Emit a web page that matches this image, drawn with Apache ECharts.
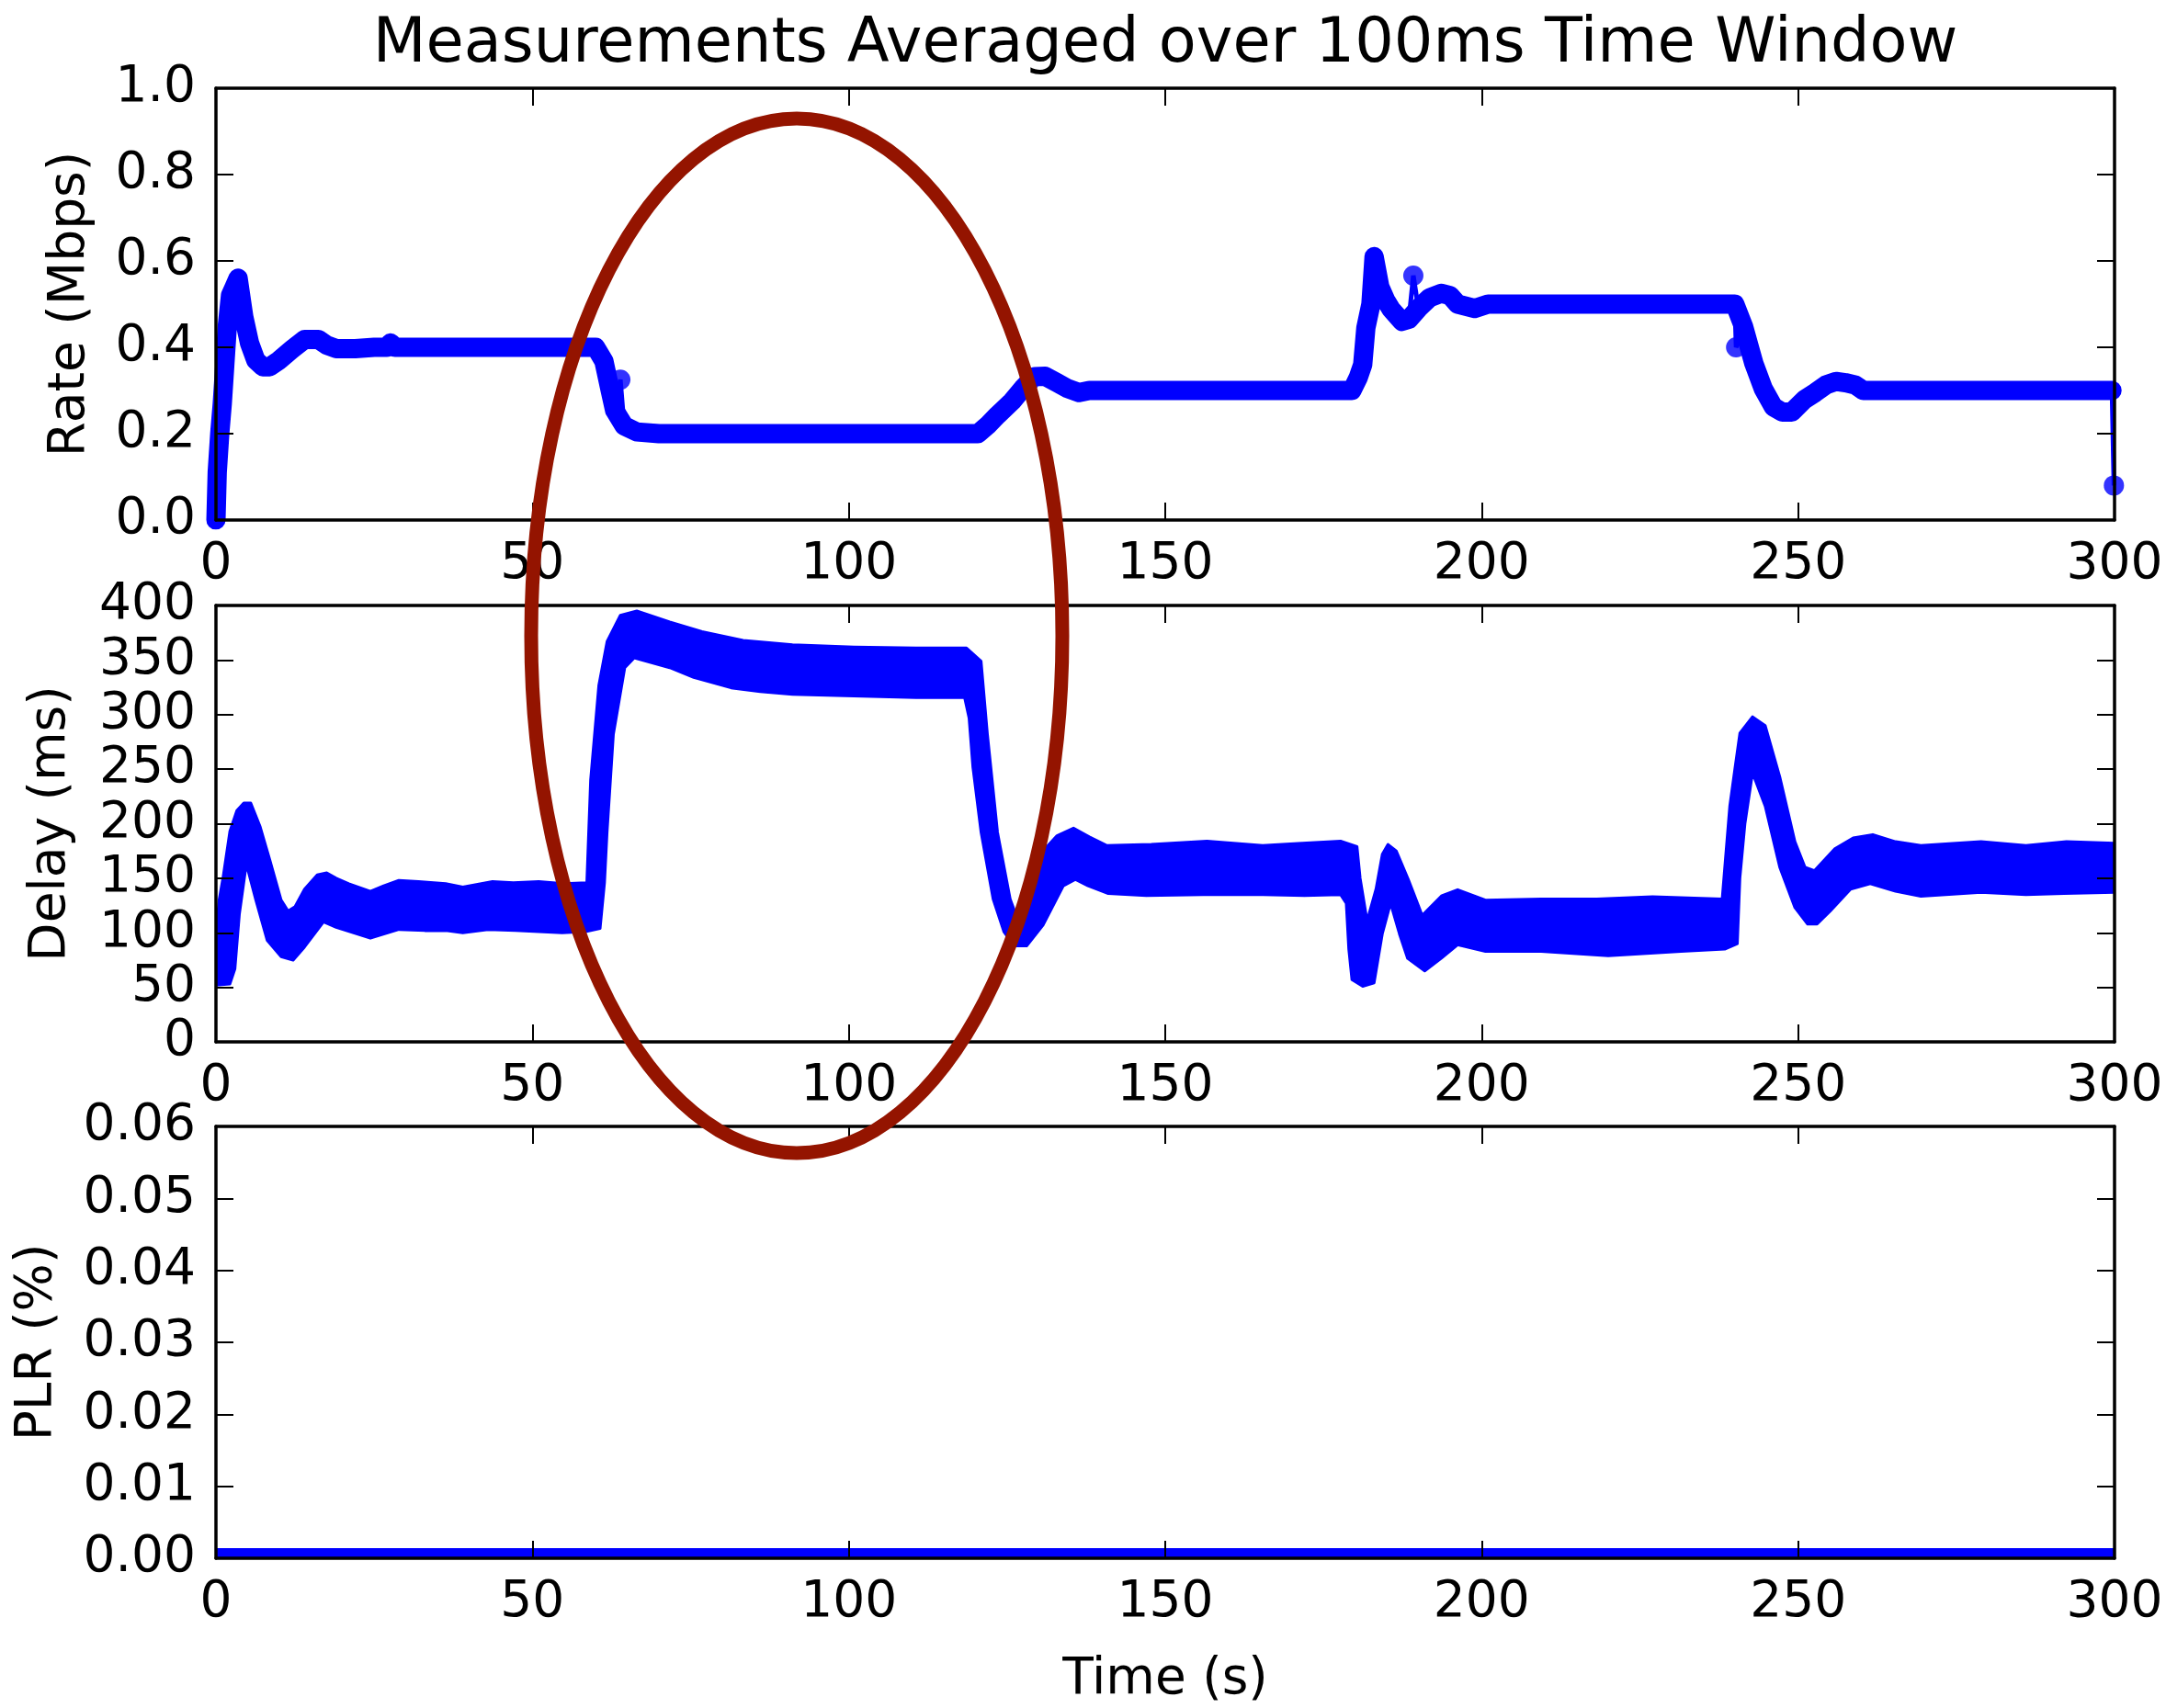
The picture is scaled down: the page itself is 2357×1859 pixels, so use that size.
<!DOCTYPE html>
<html><head><meta charset="utf-8">
<script src="https://cdn.jsdelivr.net/npm/echarts@6/dist/echarts.min.js"></script>
<style>html,body{margin:0;padding:0;background:#fff}#c{width:2357px;height:1859px}</style>
</head><body><div id="c"></div>
<script>
// ---------------- data ----------------
const titleText = 'Measurements Averaged over 100ms Time Window';
const xName = 'Time (s)';
const yNames = ['Rate (Mbps)', 'Delay (ms)', 'PLR (%)'];

// Rate (Mbps): main path
const rateTime = [0, 0.2, 0.6, 1.0, 1.4, 1.8, 2.3, 2.9, 3.5, 4.4, 5.3, 6.3, 7.4, 8.5, 10, 12, 14, 16.2, 17.5, 19, 22, 25, 27, 27.6, 28.3, 35, 45, 55, 60, 61.3, 62.3, 63, 64.5, 66.5, 70, 80, 90, 100, 110, 120.4, 122, 123.5, 125.8, 127.5, 129.3, 131, 132.9, 134.5, 136.4, 138, 145, 160, 170, 179.5, 180.5, 181.2, 181.7, 182.5, 183, 183.9, 184.8, 185.7, 187.4, 188.5, 190, 191.8, 193.6, 195, 196.2, 198.9, 201, 210, 220, 230, 240, 241.4, 243, 244.5, 246.1, 247.5, 249, 251, 252.7, 254.4, 256, 257.5, 259, 260.3, 270, 280, 290, 299.6];
const rateMbps = [0.0, 0.11, 0.2, 0.27, 0.36, 0.45, 0.52, 0.54, 0.56, 0.47, 0.41, 0.37, 0.355, 0.355, 0.37, 0.395, 0.418, 0.418, 0.405, 0.397, 0.397, 0.4, 0.4, 0.41, 0.4, 0.4, 0.4, 0.4, 0.4, 0.368, 0.3, 0.254, 0.218, 0.204, 0.2, 0.2, 0.2, 0.2, 0.2, 0.2, 0.22, 0.243, 0.275, 0.305, 0.332, 0.333, 0.318, 0.305, 0.295, 0.3, 0.3, 0.3, 0.3, 0.3, 0.33, 0.36, 0.445, 0.5, 0.61, 0.54, 0.51, 0.488, 0.46, 0.465, 0.49, 0.515, 0.525, 0.52, 0.5, 0.49, 0.5, 0.5, 0.5, 0.5, 0.5, 0.447, 0.363, 0.304, 0.262, 0.25, 0.25, 0.279, 0.295, 0.313, 0.321, 0.318, 0.313, 0.3, 0.3, 0.3, 0.3, 0.3];
// Rate: isolated samples
const rateOutlierTime = [63.9, 189.2, 240.2, 299.9];
const rateOutlierMbps = [0.325, 0.566, 0.40, 0.08];

// Delay (ms): upper and lower envelope of the sample band
const delayUpperTime = [0, 0.5, 1.1, 2.2, 3.3, 4.4, 5.5, 7, 8.5, 10.3, 11.4, 12.5, 14, 16, 17.5, 19, 21, 24.4, 26.5, 28.9, 32, 36.3, 39, 43.7, 47, 51, 55, 58.6, 59.2, 60.5, 61.8, 63.9, 66.5, 71.7, 76.8, 83.3, 91.1, 100.8, 110.6, 118.6, 120.9, 121.9, 123.5, 125.5, 126.7, 127.6, 129, 130.2, 132.9, 135.5, 138, 140.8, 147.8, 156.6, 165.4, 171, 177.7, 180.3, 180.8, 181.9, 183.3, 184.3, 185.2, 186.5, 188.4, 190.6, 193.7, 196.2, 200.6, 209.4, 218.2, 227, 238, 239.2, 240, 240.8, 242.8, 244.8, 247.1, 249.5, 251.1, 252.6, 255.8, 258.7, 261.8, 265.4, 269.4, 278.9, 286, 292.4, 300];
const delayUpperMs = [100, 130, 150, 193, 212, 219, 219, 197, 167, 130, 120, 124, 140, 153, 155, 150, 145, 138, 143, 148, 147, 145, 142, 147, 146, 147, 145, 146, 240, 327, 367, 391, 395, 385, 376, 368, 364, 362, 361, 361, 349, 282, 192, 131, 112, 121, 150, 172, 189, 196, 188, 180, 181, 184, 180, 182, 184, 179, 150, 111, 140, 172, 181, 175, 149, 116, 134, 139.5, 130, 131, 131, 133, 131, 216, 250, 283, 298, 290, 243, 183.5, 160, 157, 177, 187, 190, 183.5, 180, 183.5, 180, 183.5, 182];
const delayLowerTime = [0, 2.2, 3, 3.7, 4.8, 6.3, 8.1, 10.3, 12.2, 14, 17, 19, 24.4, 28.9, 33, 36.3, 39, 43, 47.3, 51, 54.7, 58.4, 60.7, 61.4, 61.8, 62.8, 64.6, 66.1, 71.7, 75.5, 81.4, 86, 91.1, 100.8, 110.6, 118.3, 119, 119.6, 120.9, 122.8, 124.5, 126.1, 128.1, 130.7, 133.9, 135.8, 137.8, 141, 147, 156, 165.4, 172, 177.7, 178.6, 179, 179.5, 181.2, 183, 184.3, 185.6, 187, 188.3, 191, 193.6, 196.2, 200.6, 209.4, 220, 231.5, 238.4, 240.4, 240.8, 241.6, 242.8, 244.8, 247.1, 249.5, 251.5, 253, 255.1, 258.3, 261.4, 265.4, 269.4, 278.9, 286, 292, 300];
const delayLowerMs = [52, 53, 67, 117, 163, 130, 93, 78, 75, 87, 110, 105, 95, 103, 102, 102, 100, 103, 102, 101, 100, 101, 104, 146, 192, 282, 343, 352, 343, 334, 324.5, 321, 318.5, 317, 315.5, 315.5, 297, 252, 192, 131, 101, 88, 88, 107, 143, 149, 143, 136, 134, 135, 135, 134, 135, 127, 85, 57, 51, 54, 99, 127, 99, 76.5, 65, 76.5, 89, 83, 83, 79, 83, 85, 90, 150, 200, 246.6, 216, 160, 123, 108, 108, 120, 140, 145, 138, 133.5, 137, 135, 136, 137];

// PLR (%)
const plrTime = [0, 50, 100, 150, 200, 250, 300];
const plrPct = [0, 0, 0, 0, 0, 0, 0];

// ---------------- chart ----------------
const FONT = 'DejaVu Sans';
const BLUE = '#0000ff';
const chart = echarts.init(document.getElementById('c'), null, {renderer: 'canvas'});

const grids = [
  {left: 235, top: 96, width: 2066, height: 470},
  {left: 235, top: 659, width: 2066, height: 475},
  {left: 235, top: 1226, width: 2066, height: 470}
];
const yRanges = [
  {min: 0, max: 1.0, interval: 0.2, fmt: v => v.toFixed(1), gap: 131},
  {min: 0, max: 400, interval: 50, fmt: v => String(Math.round(v)), gap: 152},
  {min: 0, max: 0.06, interval: 0.01, fmt: v => v.toFixed(2), gap: 167}
];
const lineCol = '#000';
const txt = {color: '#000', fontFamily: FONT, fontSize: 55};

const xAxes = [], yAxes = [];
grids.forEach((g, gi) => {
  ['bottom', 'top'].forEach(pos => {
    xAxes.push({
      type: 'value', gridIndex: gi, position: pos, min: 0, max: 300, interval: 50, z: 10,
      axisLine: {show: true, onZero: false, lineStyle: {color: lineCol, width: 3.5}},
      axisTick: {show: true, inside: true, length: 19, lineStyle: {color: lineCol, width: 2}},
      axisLabel: Object.assign({show: pos === 'bottom', margin: 21, showMinLabel: true, showMaxLabel: true}, txt),
      splitLine: {show: false},
      name: (gi === 2 && pos === 'bottom') ? xName : '',
      nameLocation: 'middle', nameGap: 105,
      nameTextStyle: txt
    });
  });
  const r = yRanges[gi];
  ['left', 'right'].forEach(pos => {
    yAxes.push({
      type: 'value', gridIndex: gi, position: pos, min: r.min, max: r.max, interval: r.interval, z: 10,
      axisLine: {show: true, onZero: false, lineStyle: {color: lineCol, width: 3.5}},
      axisTick: {show: true, inside: true, length: 19, lineStyle: {color: lineCol, width: 2}},
      axisLabel: Object.assign({show: pos === 'left', margin: 22, formatter: r.fmt, showMinLabel: true, showMaxLabel: true}, txt),
      splitLine: {show: false},
      name: pos === 'left' ? yNames[gi] : '',
      nameLocation: 'middle', nameRotate: 90, nameGap: r.gap,
      nameTextStyle: txt
    });
  });
});

const zip = (a, b) => a.map((v, i) => [v, b[i]]);
const rateMain = zip(rateTime, rateMbps);
const rateOut = zip(rateOutlierTime, rateOutlierMbps);
const rateAll = rateMain.concat(rateOut).sort((p, q) => p[0] - q[0]);
const delayUpper = zip(delayUpperTime, delayUpperMs);
const delayLower = zip(delayLowerTime, delayLowerMs);

const option = {
  animation: false,
  backgroundColor: '#fff',
  grid: grids.map(g => Object.assign({show: false, containLabel: false}, g)),
  xAxis: xAxes,
  yAxis: yAxes,
  graphic: [
    {type: 'text', x: 1268, y: 50, z: 50,
     style: {text: titleText, fill: '#000', fontFamily: FONT, fontSize: 67, align: 'center', verticalAlign: 'middle'}},
    {type: 'ellipse', z: 100, shape: {cx: 867, cy: 692, rx: 289, ry: 563},
     style: {fill: 'none', stroke: '#941400', lineWidth: 15}}
  ],
  series: [
    {type: 'line', name: 'rate-link', xAxisIndex: 0, yAxisIndex: 0, data: rateAll, showSymbol: false, z: 2,
     lineStyle: {color: BLUE, width: 5}},
    {type: 'line', name: 'rate', xAxisIndex: 0, yAxisIndex: 0, data: rateMain, showSymbol: false, z: 3,
     lineStyle: {color: BLUE, width: 21, cap: 'round', join: 'round'}},
    {type: 'scatter', name: 'rate-samples', xAxisIndex: 0, yAxisIndex: 0, data: rateOut, symbolSize: 22, z: 3,
     itemStyle: {color: BLUE}},
    {type: 'custom', name: 'delay', xAxisIndex: 2, yAxisIndex: 2, clip: true, z: 2,
     data: delayUpper.concat(delayLower),
     encode: {x: 0, y: 1},
     renderItem: function (params, api) {
       if (params.dataIndex !== 0) return;
       const pts = [];
       delayUpper.forEach(p => pts.push(api.coord(p)));
       for (let i = delayLower.length - 1; i >= 0; i--) pts.push(api.coord(delayLower[i]));
       return {type: 'polygon', shape: {points: pts}, style: {fill: BLUE, stroke: BLUE, lineWidth: 3, lineJoin: 'round'}};
     }},
    {type: 'custom', name: 'plr', xAxisIndex: 4, yAxisIndex: 4, clip: true, z: 2,
     data: zip(plrTime, plrPct),
     encode: {x: 0, y: 1},
     renderItem: function (params, api) {
       if (params.dataIndex !== 0) return;
       const pts = plrTime.map((t, i) => api.coord([t, plrPct[i]]));
       return {type: 'polyline', shape: {points: pts}, style: {fill: 'none', stroke: BLUE, lineWidth: 22}};
     }}
  ]
};
chart.setOption(option);
</script>
</body></html>
